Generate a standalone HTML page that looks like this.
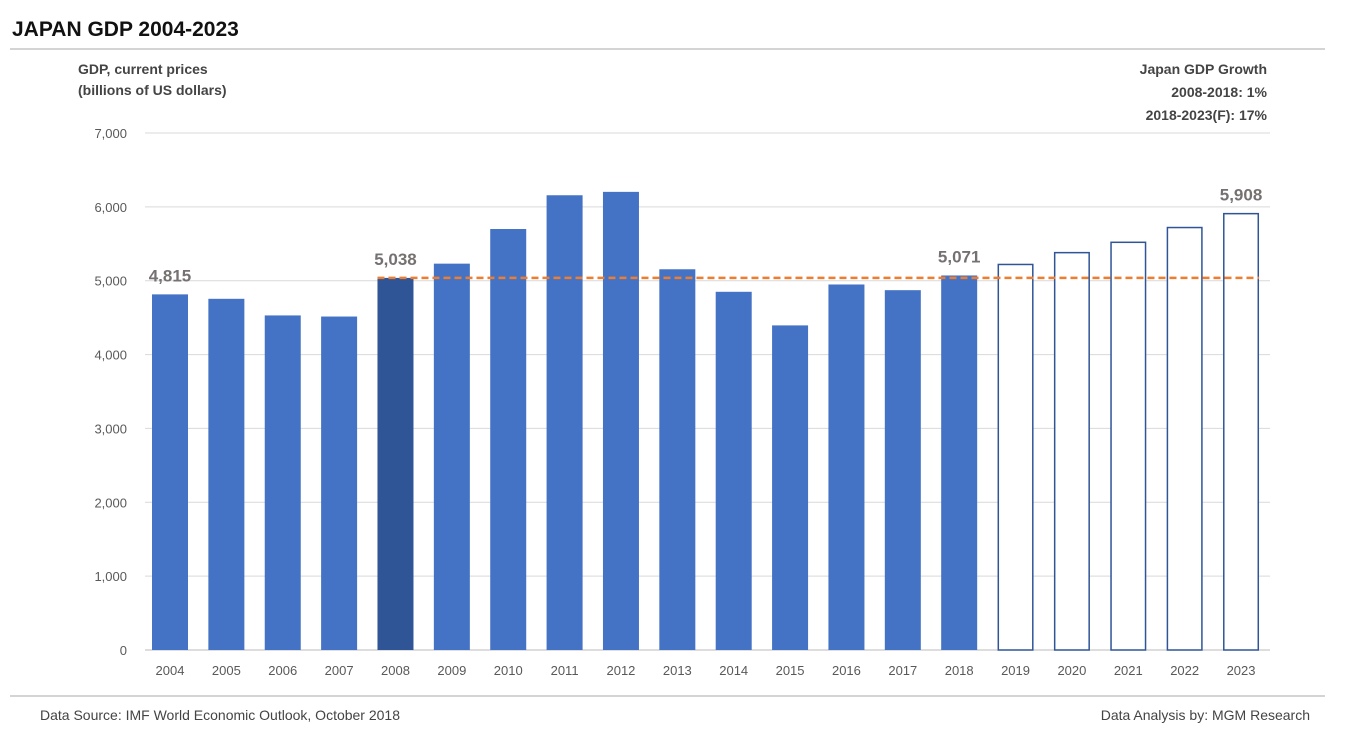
<!DOCTYPE html>
<html><head><meta charset="utf-8"><style>
body{margin:0;background:#fff;font-family:"Liberation Sans",sans-serif;}
svg text{font-family:"Liberation Sans",sans-serif;}
</style></head><body>
<svg width="1354" height="749">
<text x="12" y="36" font-size="21" font-weight="bold" fill="#111">JAPAN GDP 2004-2023</text>
<line x1="10" y1="49" x2="1325" y2="49" stroke="#aaa"/>
<text x="78" y="74" font-size="14" font-weight="bold" fill="#444">GDP, current prices</text>
<text x="78" y="95" font-size="14" font-weight="bold" fill="#444">(billions of US dollars)</text>
<text x="1267" y="74" font-size="14" font-weight="bold" fill="#444" text-anchor="end">Japan GDP Growth</text>
<text x="1267" y="97" font-size="14" font-weight="bold" fill="#444" text-anchor="end">2008-2018: 1%</text>
<text x="1267" y="120" font-size="14" font-weight="bold" fill="#444" text-anchor="end">2018-2023(F): 17%</text>
<g id="grid"></g><g id="bars"></g><g id="labels"></g>
<line x1="10" y1="696" x2="1325" y2="696" stroke="#aaa"/>
<text x="40" y="720" font-size="14" fill="#444">Data Source: IMF World Economic Outlook, October 2018</text>
<text x="1310" y="720" font-size="14" fill="#444" text-anchor="end">Data Analysis by: MGM Research</text>
</svg>
<script>
const years=["2004","2005","2006","2007","2008","2009","2010","2011","2012","2013","2014","2015","2016","2017","2018","2019","2020","2021","2022","2023"];
const gdp=[4815,4755,4530,4515,5038,5231,5700,6157,6203,5155,4850,4395,4949,4872,5071,5220,5380,5520,5720,5908];
const forecastFrom=2019;
const highlightYear="2008";
const labeledYears=["2004","2008","2018","2023"];
const yTicks=[0,1000,2000,3000,4000,5000,6000,7000];
const ns="http://www.w3.org/2000/svg";
const y=v=>650-v*(517/7000);
const x=i=>170+i*56.37;
const bw=36;
function mk(tag,attrs,parent,text){const e=document.createElementNS(ns,tag);for(const k in attrs)e.setAttribute(k,attrs[k]);if(text!==undefined)e.textContent=text;parent.appendChild(e);return e;}
const grid=document.getElementById('grid'),bars=document.getElementById('bars'),labels=document.getElementById('labels');
yTicks.forEach(t=>{
 const l=mk('line',{x1:145,x2:1270,y1:y(t),y2:y(t),stroke:t===0?'#bbb':'#d9d9d9'},grid);
 
 
 const tx=mk('text',{x:127,y:y(t)+5,'font-size':13,fill:'#595959','text-anchor':'end'},grid,t.toLocaleString('en-US'));
 
 
});
years.forEach((yr,i)=>{
 const v=gdp[i],fc=+yr>=forecastFrom;
 const r=mk('rect',{x:x(i)-bw/2+(fc?0.75:0),y:y(v),width:bw-(fc?1.5:0),height:650-y(v),fill:fc?'#fff':(yr===highlightYear?'#2f5597':'#4472c4'),stroke:fc?'#2f5597':'none','stroke-width':1.5},bars);
 
 
 const t=mk('text',{x:x(i),y:675,'font-size':13,fill:'#595959','text-anchor':'middle'},labels,yr);
 
 
 if(labeledYears.includes(yr)){
  const vl=mk('text',{x:x(i),y:y(v)-13,'font-size':17,'font-weight':'bold',fill:'#767171','text-anchor':'middle'},labels,v.toLocaleString('en-US'));
  
  
 }
});
const hi=years.indexOf(highlightYear);
const ref=mk('line',{x1:x(hi)-bw/2,x2:x(years.length-1)+bw/2,y1:y(gdp[hi]),y2:y(gdp[hi]),stroke:'#ed7d31','stroke-width':2.5,'stroke-dasharray':'7,4'},labels);


</script>
</body></html>
